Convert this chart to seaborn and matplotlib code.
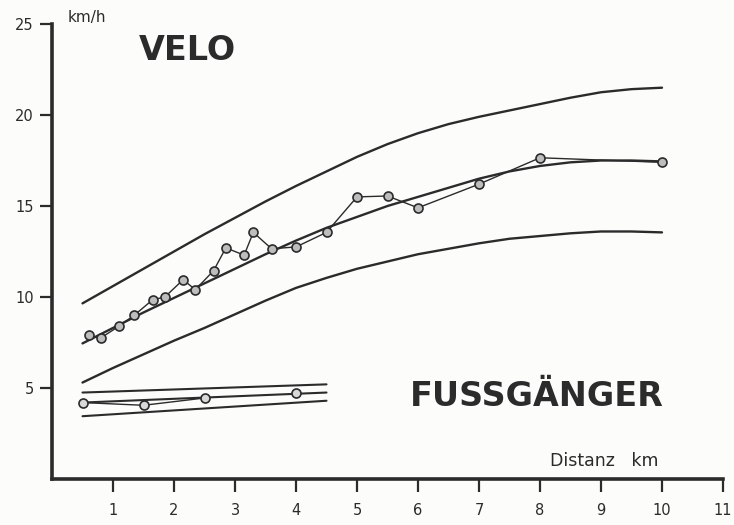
import matplotlib
matplotlib.use("Agg")
import matplotlib.pyplot as plt
import seaborn as sns

# Velo: measured mean speeds per distance (km, km/h)
velo_x = [0.6, 0.8, 1.1, 1.35, 1.65, 1.85, 2.15, 2.35, 2.65, 2.85, 3.15,
          3.3, 3.6, 4.0, 4.5, 5.0, 5.5, 6.0, 7.0, 8.0, 10.0]
velo_y = [7.9, 7.75, 8.4, 9.0, 9.85, 10.0, 10.95, 10.4, 11.45, 12.7, 12.3,
          13.55, 12.65, 12.75, 13.55, 15.5, 15.55, 14.9, 16.2, 17.65, 17.4]

# Velo: fitted curve and upper / lower envelopes, read every 0.5 km
curve_x = [0.5, 1.0, 1.5, 2.0, 2.5, 3.0, 3.5, 4.0, 4.5, 5.0, 5.5, 6.0, 6.5,
           7.0, 7.5, 8.0, 8.5, 9.0, 9.5, 10.0]
velo_fit = [7.45, 8.3, 9.15, 9.95, 10.75, 11.55, 12.35, 13.1, 13.8, 14.4,
            15.0, 15.5, 16.0, 16.5, 16.9, 17.2, 17.4, 17.5, 17.5, 17.45]
velo_upper = [9.65, 10.6, 11.55, 12.5, 13.45, 14.35, 15.25, 16.1, 16.9, 17.7,
              18.4, 19.0, 19.5, 19.9, 20.25, 20.6, 20.95, 21.25, 21.42, 21.5]
velo_lower = [5.3, 6.1, 6.85, 7.6, 8.3, 9.05, 9.8, 10.5, 11.05, 11.55,
              11.95, 12.35, 12.65, 12.95, 13.2, 13.35, 13.5, 13.6, 13.6, 13.55]

# Fussgaenger (pedestrians)
fuss_x = [0.5, 1.5, 2.5, 4.0]
fuss_y = [4.2, 4.05, 4.45, 4.7]
fuss_line_x = [0.5, 4.5]
fuss_fit = [4.2, 4.75]
fuss_upper = [4.75, 5.2]
fuss_lower = [3.45, 4.3]

x_ticks = [1, 2, 3, 4, 5, 6, 7, 8, 9, 10, 11]
y_ticks = [5, 10, 15, 20, 25]

ink = "#2b2b2b"
paper = "#fcfcfa"

sns.set_style("ticks")
plt.rcParams["font.family"] = ["DejaVu Sans"]

fig = plt.figure(figsize=(7.34, 5.25), dpi=100, facecolor=paper)
ax = fig.add_axes([52 / 734, 46 / 525, 671 / 734, 455 / 525])
ax.set_facecolor(paper)

# curves
for ys in (velo_upper, velo_fit, velo_lower):
    sns.lineplot(x=curve_x, y=ys, ax=ax, color=ink, lw=1.7, sort=False)
for ys in (fuss_upper, fuss_fit, fuss_lower):
    sns.lineplot(x=fuss_line_x, y=ys, ax=ax, color=ink, lw=1.5, sort=False)

# measured points
sns.lineplot(x=velo_x, y=velo_y, ax=ax, color=ink, lw=1.0, sort=False)
sns.scatterplot(x=velo_x, y=velo_y, ax=ax, s=42, facecolor="#bdbdbd",
                edgecolor=ink, linewidth=1.2, zorder=5)
sns.lineplot(x=fuss_x[:3], y=fuss_y[:3], ax=ax, color=ink, lw=1.0, sort=False)
sns.scatterplot(x=fuss_x, y=fuss_y, ax=ax, s=42, facecolor="#d9d9d9",
                edgecolor=ink, linewidth=1.2, zorder=5)

ax.set_xlim(0, 11)
ax.set_ylim(0, 25)
ax.set_xticks(x_ticks)
ax.set_yticks(y_ticks)
ax.tick_params(axis="both", colors=ink, width=1.6, length=9, labelsize=10.5)
ax.tick_params(axis="x", pad=8)
ax.tick_params(axis="y", pad=4)
sns.despine(ax=ax)
for side in ("left", "bottom"):
    ax.spines[side].set_linewidth(2.6)
    ax.spines[side].set_color(ink)

# annotations
ax.text(0.25, 25.35, "km/h", fontsize=11, color=ink, ha="left", va="center")
ax.text(2.22, 23.55, "VELO", fontsize=24, fontweight="bold", color=ink,
        ha="center", va="center")
ax.text(7.95, 4.55, "FUSSGÄNGER", fontsize=24, fontweight="bold", color=ink,
        ha="center", va="center")
ax.text(9.05, 1.0, "Distanz   km", fontsize=12.5, color=ink,
        ha="center", va="center")

fig.savefig("out.png", dpi=100, facecolor=paper)
